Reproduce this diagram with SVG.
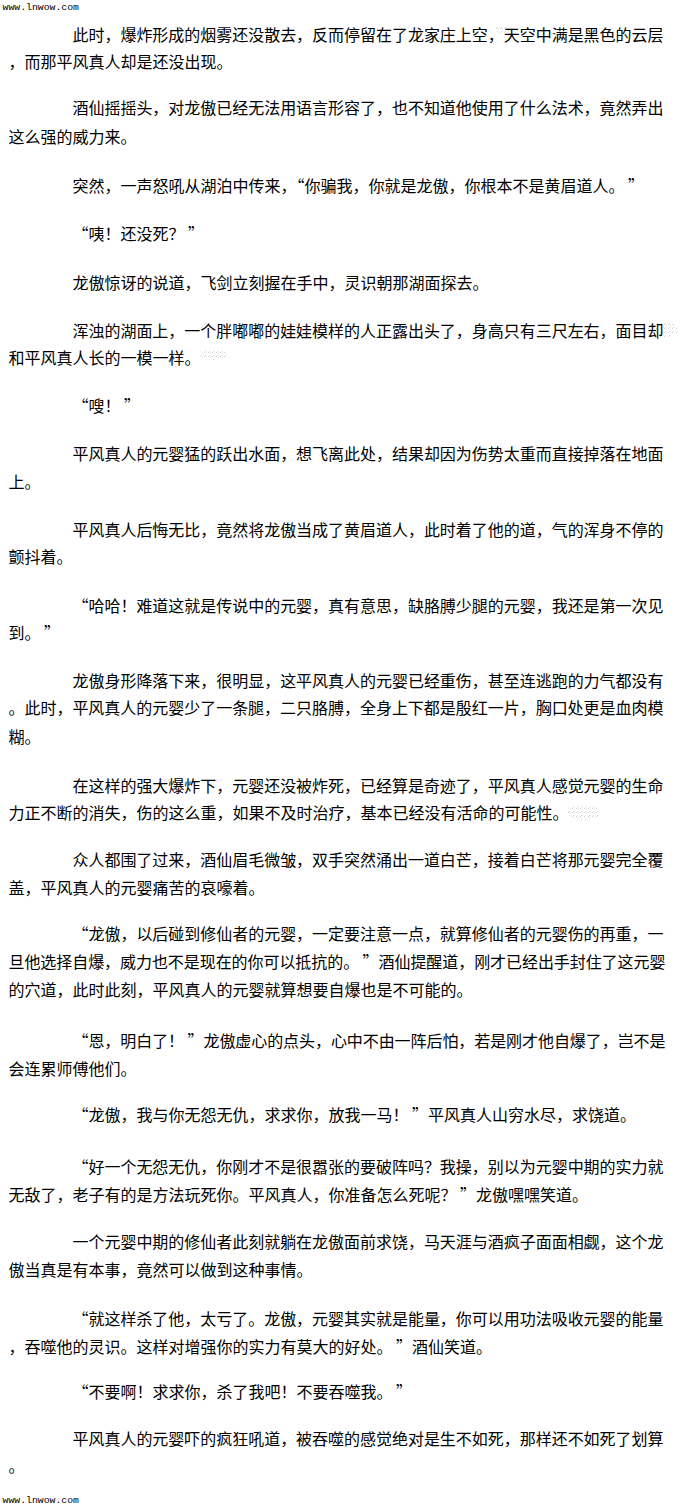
<svg xmlns="http://www.w3.org/2000/svg" width="680" height="1507" viewBox="0 0 680 1507">
<style>
.t{font-family:"Noto Sans CJK SC","Noto Sans CJK JP",sans-serif;font-size:16px;fill:#000}
.f{font-family:"Liberation Mono","DejaVu Sans Mono",monospace;font-size:9.8px;fill:#000}
.n{fill:url(#dots)}
</style>
<defs>
<pattern id="dots" width="4" height="4" patternUnits="userSpaceOnUse">
<rect x="0" y="0" width="1" height="1" fill="#d0d0d0"/>
<rect x="2" y="1" width="1" height="1" fill="#e2e2e2"/>
<rect x="1" y="3" width="1" height="1" fill="#dadada"/>
</pattern>
</defs>
<rect width="680" height="1507" fill="#fff"/>
<g id="noise">
<ellipse class="n" cx="502" cy="29.5" rx="7" ry="3.5"/>
<ellipse class="n" cx="663" cy="329.5" rx="15" ry="7.5"/>
<ellipse class="n" cx="206.5" cy="326.5" rx="6.5" ry="3.5"/>
<ellipse class="n" cx="172.5" cy="358" rx="7.5" ry="6"/>
<ellipse class="n" cx="213.5" cy="355" rx="13.5" ry="5"/>
<ellipse class="n" cx="251" cy="281.5" rx="8" ry="4.5"/>
<ellipse class="n" cx="166.5" cy="780.5" rx="6.5" ry="2.5"/>
<ellipse class="n" cx="217.5" cy="780.5" rx="4.5" ry="2.5"/>
<ellipse class="n" cx="632.5" cy="786.5" rx="7.5" ry="6.5"/>
<ellipse class="n" cx="166.5" cy="809" rx="6.5" ry="2"/>
<ellipse class="n" cx="583.5" cy="812.5" rx="16.5" ry="7.5"/>
<ellipse class="n" cx="213.5" cy="1197.5" rx="13.5" ry="4.5"/>
</g>
<text id="header" class="f" x="2.5" y="10">www.lnwow.com</text>
<g id="p1">
<text class="t" x="72.5" y="41" textLength="591" lengthAdjust="spacing">此时，爆炸形成的烟雾还没散去，反而停留在了龙家庄上空，天空中满是黑色的云层</text>
<text class="t" x="8.5" y="68">，而那平风真人却是还没出现。</text>
</g>
<g id="p2">
<text class="t" x="72.5" y="114" textLength="591" lengthAdjust="spacing">酒仙摇摇头，对龙傲已经无法用语言形容了，也不知道他使用了什么法术，竟然弄出</text>
<text class="t" x="8.5" y="143">这么强的威力来。</text>
</g>
<g id="p3">
<text class="t" x="72.5" y="192">突然，一声怒吼从湖泊中传来，“你骗我，你就是龙傲，你根本不是黄眉道人。 ”</text>
</g>
<g id="p4">
<text class="t" x="72.5" y="240">“咦！还没死？ ”</text>
</g>
<g id="p5">
<text class="t" x="72.5" y="289">龙傲惊讶的说道，飞剑立刻握在手中，灵识朝那湖面探去。</text>
</g>
<g id="p6">
<text class="t" x="72.5" y="336.5" textLength="591" lengthAdjust="spacing">浑浊的湖面上，一个胖嘟嘟的娃娃模样的人正露出头了，身高只有三尺左右，面目却</text>
<text class="t" x="8.5" y="363.5">和平风真人长的一模一样。</text>
</g>
<g id="p7">
<text class="t" x="72.5" y="411.5">“嗖！ ”</text>
</g>
<g id="p8">
<text class="t" x="72.5" y="459.5" textLength="591" lengthAdjust="spacing">平风真人的元婴猛的跃出水面，想飞离此处，结果却因为伤势太重而直接掉落在地面</text>
<text class="t" x="8.5" y="487.5">上。</text>
</g>
<g id="p9">
<text class="t" x="72.5" y="536" textLength="591" lengthAdjust="spacing">平风真人后悔无比，竟然将龙傲当成了黄眉道人，此时着了他的道，气的浑身不停的</text>
<text class="t" x="8.5" y="563">颤抖着。</text>
</g>
<g id="p10">
<text class="t" x="72.5" y="611.5" textLength="591" lengthAdjust="spacing">“哈哈！难道这就是传说中的元婴，真有意思，缺胳膊少腿的元婴，我还是第一次见</text>
<text class="t" x="8.5" y="639">到。 ”</text>
</g>
<g id="p11">
<text class="t" x="72.5" y="687" textLength="591" lengthAdjust="spacing">龙傲身形降落下来，很明显，这平风真人的元婴已经重伤，甚至连逃跑的力气都没有</text>
<text class="t" x="8.5" y="713.5" textLength="655" lengthAdjust="spacing">。此时，平风真人的元婴少了一条腿，二只胳膊，全身上下都是殷红一片，胸口处更是血肉模</text>
<text class="t" x="8.5" y="743">糊。</text>
</g>
<g id="p12">
<text class="t" x="72.5" y="792" textLength="591" lengthAdjust="spacing">在这样的强大爆炸下，元婴还没被炸死，已经算是奇迹了，平风真人感觉元婴的生命</text>
<text class="t" x="8.5" y="819">力正不断的消失，伤的这么重，如果不及时治疗，基本已经没有活命的可能性。</text>
</g>
<g id="p13">
<text class="t" x="72.5" y="866" textLength="591" lengthAdjust="spacing">众人都围了过来，酒仙眉毛微皱，双手突然涌出一道白芒，接着白芒将那元婴完全覆</text>
<text class="t" x="8.5" y="894">盖，平风真人的元婴痛苦的哀嚎着。</text>
</g>
<g id="p14">
<text class="t" x="72.5" y="940" textLength="591" lengthAdjust="spacing">“龙傲，以后碰到修仙者的元婴，一定要注意一点，就算修仙者的元婴伤的再重，一</text>
<text class="t" x="8.5" y="968" textLength="657" lengthAdjust="spacing">旦他选择自爆，威力也不是现在的你可以抵抗的。 ”酒仙提醒道，刚才已经出手封住了这元婴</text>
<text class="t" x="8.5" y="996">的穴道，此时此刻，平风真人的元婴就算想要自爆也是不可能的。</text>
</g>
<g id="p15">
<text class="t" x="72.5" y="1047" textLength="593" lengthAdjust="spacing">“恩，明白了！ ”龙傲虚心的点头，心中不由一阵后怕，若是刚才他自爆了，岂不是</text>
<text class="t" x="8.5" y="1075">会连累师傅他们。</text>
</g>
<g id="p16">
<text class="t" x="72.5" y="1121">“龙傲，我与你无怨无仇，求求你，放我一马！ ”平风真人山穷水尽，求饶道。</text>
</g>
<g id="p17">
<text class="t" x="72.5" y="1172.5" textLength="591" lengthAdjust="spacing">“好一个无怨无仇，你刚才不是很嚣张的要破阵吗？我操，别以为元婴中期的实力就</text>
<text class="t" x="8.5" y="1201">无敌了，老子有的是方法玩死你。平风真人，你准备怎么死呢？ ”龙傲嘿嘿笑道。</text>
</g>
<g id="p18">
<text class="t" x="72.5" y="1248" textLength="591" lengthAdjust="spacing">一个元婴中期的修仙者此刻就躺在龙傲面前求饶，马天涯与酒疯子面面相觑，这个龙</text>
<text class="t" x="8.5" y="1276">傲当真是有本事，竟然可以做到这种事情。</text>
</g>
<g id="p19">
<text class="t" x="72.5" y="1325" textLength="591" lengthAdjust="spacing">“就这样杀了他，太亏了。龙傲，元婴其实就是能量，你可以用功法吸收元婴的能量</text>
<text class="t" x="8.5" y="1353">，吞噬他的灵识。这样对增强你的实力有莫大的好处。 ”酒仙笑道。</text>
</g>
<g id="p20">
<text class="t" x="72.5" y="1397.5">“不要啊！求求你，杀了我吧！不要吞噬我。 ”</text>
</g>
<g id="p21">
<text class="t" x="72.5" y="1445" textLength="591" lengthAdjust="spacing">平风真人的元婴吓的疯狂吼道，被吞噬的感觉绝对是生不如死，那样还不如死了划算</text>
<text class="t" x="8.5" y="1472">。</text>
</g>
<text id="footer" class="f" x="2.5" y="1502.5">www.lnwow.com</text>
</svg>
